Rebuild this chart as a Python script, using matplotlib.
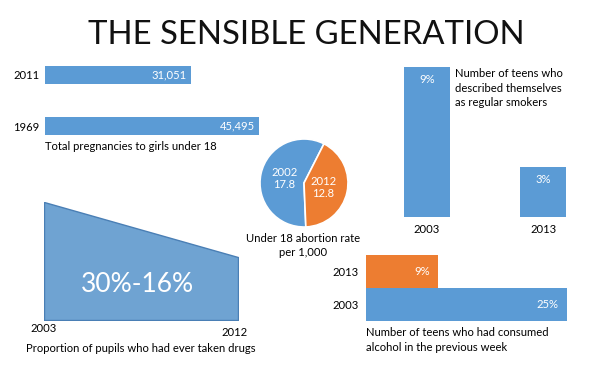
import matplotlib
matplotlib.use("Agg")
import matplotlib.pyplot as plt

# Data read from the infographic
preg_years = ["1969", "2011"]
preg_values = [45495, 31051]

abort_years = ["2002", "2012"]
abort_rates = [17.8, 12.8]

smoke_years = ["2003", "2013"]
smoke_pct = [9, 3]

alcohol_years = ["2003", "2013"]
alcohol_pct = [25, 9]

drug_years = [2003, 2012]
drug_pct = [30, 16]

BLUE = "#5b9bd5"
ORANGE = "#ed7d31"
AREA = "#6fa3d2"
AREA_EDGE = "#4a7fb5"
W, H = 600, 386
FS = 8.1

plt.rcParams["font.family"] = ["Lato", "DejaVu Sans"]

fig = plt.figure(figsize=(W / 100, H / 100), dpi=100)
fig.patch.set_facecolor("white")


def px_axes(x0, y0, x1, y1):
    # pixel box (top-left origin) -> figure axes
    ax = fig.add_axes([x0 / W, 1 - y1 / H, (x1 - x0) / W, (y1 - y0) / H])
    ax.set_facecolor("none")
    for s in ax.spines.values():
        s.set_visible(False)
    return ax


def px_text(x, y, s, **kw):
    fig.text(x / W, 1 - y / H, s, **kw)


px_text(306, 35, "THE SENSIBLE GENERATION", ha="center", va="center",
        fontsize=23.7, color="#111111")

# pregnancies
ax = px_axes(45, 49, 259, 152)
ax.barh(range(len(preg_values)), preg_values, height=0.35, color=BLUE)
ax.set_xlim(0, preg_values[0])
ax.set_ylim(-0.5, 1.5)
ax.set_yticks(range(len(preg_years)), preg_years)
ax.set_xticks([])
ax.tick_params(axis="y", length=0, pad=4, labelsize=FS)
for i, v in enumerate(preg_values):
    ax.annotate(f"{v:,}", (v, i), xytext=(-3, 0), textcoords="offset points",
                ha="right", va="center", color="white", fontsize=FS)
px_text(45, 147, "Total pregnancies to girls under 18", ha="left", va="center",
        fontsize=FS)

# abortion pie
ax = px_axes(260, 139, 348, 227)
ax.pie(abort_rates, labels=[f"{y}\n{v}" for y, v in zip(abort_years, abort_rates)],
       colors=[BLUE, ORANGE], startangle=63, labeldistance=0.45,
       wedgeprops=dict(edgecolor="white", linewidth=1.2),
       textprops=dict(color="white", fontsize=FS, ha="center", va="center",
                      linespacing=1.1))
ax.set_xlim(-1, 1)
ax.set_ylim(-1, 1)
px_text(303, 238, "Under 18 abortion rate", ha="center", va="center", fontsize=FS)
px_text(303, 253, "per 1,000", ha="center", va="center", fontsize=FS)

# smokers
ax = px_axes(392, 67, 578, 217)
ax.bar(range(len(smoke_pct)), smoke_pct, width=0.39, color=BLUE)
ax.set_xlim(-0.3, 1.3)
ax.set_ylim(0, smoke_pct[0])
ax.set_xticks(range(len(smoke_years)), smoke_years)
ax.set_yticks([])
ax.tick_params(axis="x", length=0, pad=5, labelsize=FS)
for i, v in enumerate(smoke_pct):
    ax.annotate(f"{v}%", (i, v), xytext=(0, -5), textcoords="offset points",
                ha="center", va="top", color="white", fontsize=FS)
px_text(455, 88, "Number of teens who\ndescribed themselves\nas regular smokers",
        ha="left", va="center", fontsize=FS, linespacing=1.35)

# alcohol
ax = px_axes(366, 255, 567, 321)
ax.barh(range(len(alcohol_pct)), alcohol_pct, height=1.0,
        color=[BLUE, ORANGE])
ax.set_xlim(0, alcohol_pct[0])
ax.set_ylim(-0.5, 1.5)
ax.set_yticks(range(len(alcohol_years)), alcohol_years)
ax.set_xticks([])
ax.tick_params(axis="y", length=0, pad=5, labelsize=FS)
for i, v in enumerate(alcohol_pct):
    ax.annotate(f"{v}%", (v, i), xytext=(-6, 0), textcoords="offset points",
                ha="right", va="center", color="white", fontsize=FS)
px_text(366, 340, "Number of teens who had consumed\nalcohol in the previous week",
        ha="left", va="center", fontsize=FS, linespacing=1.35)

# drugs area
ax = px_axes(44, 202, 238, 320)
ax.fill_between(drug_years, drug_pct, color=AREA, edgecolor=AREA_EDGE,
                linewidth=1)
ax.set_xlim(drug_years[0], drug_years[-1])
ax.set_ylim(0, drug_pct[0])
ax.set_xticks([])
ax.set_yticks([])
ax.text(0.48, 0.3, f"{drug_pct[0]}%-{drug_pct[1]}%", transform=ax.transAxes,
        ha="center", va="center", color="white", fontsize=19)
px_text(44, 328, str(drug_years[0]), ha="center", va="center", fontsize=FS)
px_text(235, 333, str(drug_years[1]), ha="center", va="center", fontsize=FS)
px_text(141, 348, "Proportion of pupils who had ever taken drugs", ha="center",
        va="center", fontsize=FS)

fig.savefig("out.png", dpi=100, facecolor="white")
